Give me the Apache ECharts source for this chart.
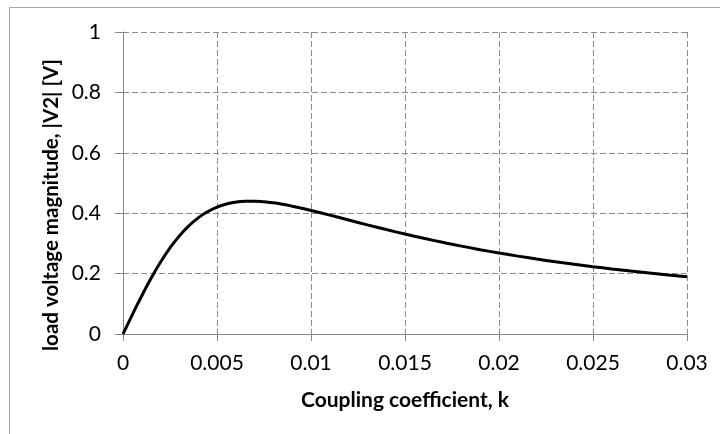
<!DOCTYPE html>
<html>
<head>
<meta charset="utf-8">
<script src="https://cdn.jsdelivr.net/npm/echarts@6/dist/echarts.min.js"></script>
<style>
html,body{margin:0;padding:0;background:#fff;}
#chart{width:720px;height:434px;}
</style>
</head>
<body>
<div id="chart"></div>
<script>
var kValues = [0,0.0005,0.001,0.0015,0.002,0.0025,0.003,0.0035,0.004,0.0045,0.005,0.0055,0.006,0.0065,0.007,0.0075,0.008,0.0085,0.009,0.0095,0.01,0.011,0.012,0.013,0.014,0.015,0.016,0.017,0.018,0.019,0.02,0.021,0.022,0.023,0.024,0.025,0.026,0.027,0.028,0.029,0.03];
var v2Values = [0,0.0644,0.1267,0.1851,0.2382,0.2850,0.3250,0.3581,0.3846,0.4050,0.4200,0.4303,0.4366,0.4396,0.4398,0.4379,0.4343,0.4293,0.4233,0.4165,0.4092,0.3936,0.3775,0.3614,0.3458,0.3309,0.3168,0.3035,0.2909,0.2792,0.2682,0.2579,0.2483,0.2393,0.2308,0.2229,0.2154,0.2084,0.2018,0.1956,0.1897];
var xTickLabels = ['0','0.005','0.01','0.015','0.02','0.025','0.03'];
var yTickLabels = ['0','0.2','0.4','0.6','0.8','1'];
var xTitle = 'Coupling coefficient, k';
var yTitle = 'load voltage magnitude, |V2| [V]';

var seriesData = kValues.map(function(k, i){ return [k, v2Values[i]]; });
var font = 'Lato, "Open Sans", sans-serif';
var gray = '#878787';

var chart = echarts.init(document.getElementById('chart'), null, {renderer:'canvas'});
chart.setOption({
  animation: false,
  backgroundColor: '#fff',
  graphic: [{
    type: 'rect', silent: true, z: -1,
    shape: {x: 9.5, y: 7.5, width: 730, height: 440},
    style: {fill: 'none', stroke: '#a6a6a6', lineWidth: 1}
  }, {
    type: 'text', silent: true, x: 51, y: 205, rotation: Math.PI / 2,
    style: {text: yTitle, fontFamily: font, fontWeight: 'bold', fontSize: 20.5, fill: '#000',
      align: 'center', verticalAlign: 'middle', textAlign: 'center', textVerticalAlign: 'middle'}
  }],
  grid: {left: 123, right: 33, top: 32, bottom: 100, containLabel: false},
  xAxis: {
    type: 'value', min: 0, max: 0.03, interval: 0.005,
    name: xTitle, nameLocation: 'middle', nameGap: 56,
    nameTextStyle: {fontFamily: font, fontWeight: 'bold', fontSize: 21, color: '#000'},
    axisLine: {show: true, lineStyle: {color: gray, width: 1}},
    axisTick: {show: true, length: 7, lineStyle: {color: gray}},
    axisLabel: {margin: 19, fontFamily: font, fontSize: 21, color: '#000',
      formatter: function(v){ var i = Math.round(v/0.005); return xTickLabels[i]; }},
    splitLine: {show: true, lineStyle: {color: '#8c8c8c', type: [6,3], width: 1}}
  },
  yAxis: {
    type: 'value', min: 0, max: 1, interval: 0.2,
    axisLine: {show: true, lineStyle: {color: gray, width: 1}},
    axisTick: {show: true, length: 8, lineStyle: {color: gray}},
    axisLabel: {margin: 22, fontFamily: font, fontSize: 21, color: '#000',
      formatter: function(v){ var i = Math.round(v/0.2); return yTickLabels[i]; }},
    splitLine: {show: true, lineStyle: {color: '#8c8c8c', type: [6,3], width: 1}}
  },
  series: [{
    type: 'line', data: seriesData, smooth: true, showSymbol: false,
    lineStyle: {color: '#000', width: 3}, clip: false
  }]
});
</script>
</body>
</html>
